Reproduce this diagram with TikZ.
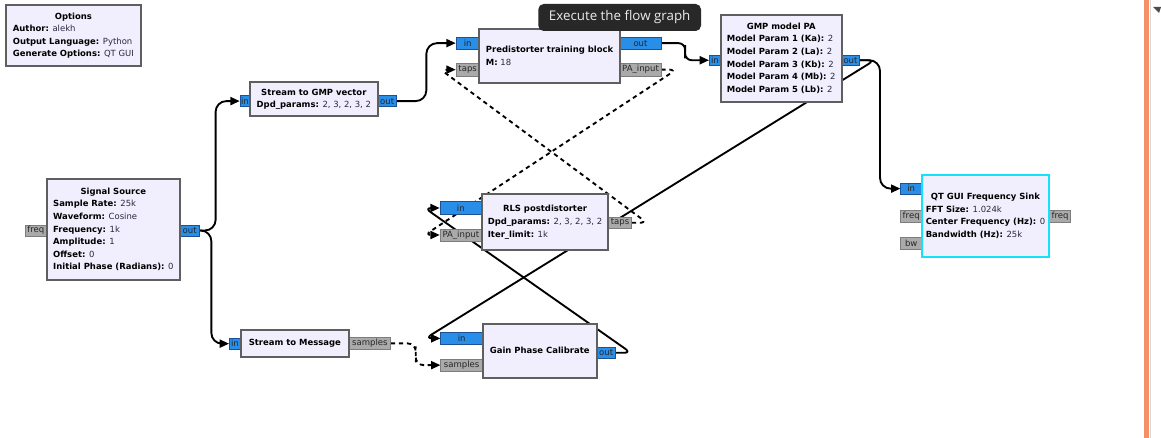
\documentclass[tikz,border=0pt]{standalone}
\usepackage{fontspec}
\setmainfont{DejaVu Sans}
\newfontfamily\tipfont{Open Sans}
\usetikzlibrary{arrows.meta,calc}
\pgfdeclarelayer{bg}
\pgfdeclarelayer{wires}
\pgfsetlayers{bg,wires,main}
\definecolor{blkfill}{RGB}{241,238,253}
\definecolor{blkdraw}{RGB}{95,95,95}
\definecolor{portblue}{RGB}{40,142,232}
\definecolor{portbluedraw}{RGB}{30,80,150}
\definecolor{portgray}{RGB}{170,170,170}
\definecolor{portgraydraw}{RGB}{125,125,125}
\definecolor{qtcyan}{RGB}{20,225,250}
\definecolor{tipbg}{RGB}{40,40,40}
\definecolor{tiptext}{RGB}{235,235,235}
\definecolor{barorange}{RGB}{244,143,104}
\definecolor{barline}{RGB}{215,215,215}
\definecolor{valtext}{RGB}{40,40,60}
\newcommand\kvp[2]{\textbf{#1:} {\color{valtext}#2}}
\newcommand\btitle[1]{\multicolumn{1}{@{}c@{}}{\textbf{#1}}}
% \boxat{style}{name}{x1}{y1}{x2}{y2}{text}
\newcommand\boxat[7]{\node[#1, minimum width={(#5-#3)*0.75pt}, minimum height={(#6-#4)*0.75pt}] (#2) at ({(#3+#5)/2},{(#4+#6)/2}) {#7};}
\begin{document}
\begin{tikzpicture}[x=0.75pt,y=-0.75pt,
  blk/.style={draw=blkdraw, fill=blkfill, line width=1.5pt, inner sep=0pt, rectangle},
  qtblk/.style={blk, draw=qtcyan},
  prt/.style={rectangle, inner sep=0pt, font=\fontsize{6.4}{7}\selectfont, text=black!85, line width=0.4pt},
  pb/.style={prt, fill=portblue, draw=portbluedraw},
  pg/.style={prt, fill=portgray, draw=portgraydraw},
  btxt/.style={inner sep=0pt, font=\fontsize{6.35}{9.45}\selectfont, text=black},
  conn/.style={line width=1.4pt, -{Triangle[length=7pt,width=6pt]}, rounded corners=8pt},
  mconn/.style={conn, dash pattern=on 3.2pt off 2.8pt},
  tip/.style={fill=tipbg, rounded corners=4pt, inner sep=0pt, text=tiptext, font=\tipfont\fontsize{10}{12}\selectfont},
]
\useasboundingbox (0,0) rectangle (1161,438);
\begin{pgfonlayer}{bg}
\fill[white] (0,0) rectangle (1161,438);
\end{pgfonlayer}

% ---- ports ----
\boxat{pg}{ss-freq}{25}{225}{46.7}{236}{freq}
\boxat{pb}{ss-out}{180}{225}{199.3}{236}{out}
\boxat{pb}{s2g-in}{240}{95.7}{250}{106.5}{in}
\boxat{pb}{s2g-out}{377.7}{95.7}{396.7}{106.5}{out}
\boxat{pb}{pt-in}{456}{37.3}{479.3}{49}{in}
\boxat{pg}{pt-taps}{456}{63.3}{479.3}{76}{taps}
\boxat{pb}{pt-out}{620}{37.3}{661}{49}{out}
\boxat{pg}{pt-pa}{620}{63.3}{661}{76}{PA\_input}
\boxat{pb}{gmp-in}{709.3}{55}{720.7}{65.5}{in}
\boxat{pb}{gmp-out}{841.7}{55}{859.3}{65.5}{out}
\boxat{pb}{rls-in}{440}{201.7}{481.7}{214.3}{in}
\boxat{pg}{rls-pa}{440}{229}{481.7}{241}{PA\_input}
\boxat{pg}{rls-taps}{608.3}{217.3}{631.7}{228.3}{taps}
\boxat{pb}{s2m-in}{229.3}{338}{240.7}{349.3}{in}
\boxat{pg}{s2m-samples}{349}{337.5}{390.7}{349.3}{samples}
\boxat{pb}{gpc-in}{440.7}{332.7}{482.7}{344}{in}
\boxat{pg}{gpc-samples}{440.7}{359.3}{482.7}{371}{samples}
\boxat{pb}{gpc-out}{596.7}{347.3}{615.7}{358.3}{out}
\boxat{pb}{qt-in}{900.7}{183.3}{921.7}{194}{in}
\boxat{pg}{qt-freq}{900.7}{210.7}{921.7}{222.3}{freq}
\boxat{pg}{qt-bw}{900.7}{237.7}{921.7}{249}{bw}
\boxat{pg}{qt-freqo}{1049.3}{210.7}{1070.7}{222.3}{freq}

% ---- blocks ----
\boxat{blk}{opt}{6}{5}{140.7}{66}{}
\boxat{blk}{s2g}{250}{82.3}{377.7}{116}{}
\boxat{blk}{ss}{46.7}{179.3}{180}{280}{}
\boxat{blk}{pt}{479.3}{29.3}{620}{83.3}{}
\boxat{blk}{gmp}{720.7}{15}{841.7}{101.7}{}
\boxat{blk}{rls}{481.7}{194}{608.3}{250}{}
\boxat{blk}{s2m}{240.7}{330}{349}{356.7}{}
\boxat{blk}{gpc}{482.7}{324}{596.7}{378.3}{}
\boxat{qtblk}{qt}{921.7}{175}{1049.3}{257.3}{}

% ---- block texts ----
\node[btxt] (opt-t) at (opt.center) {\begin{tabular}{@{}l@{}}\btitle{Options}\\ \kvp{Author}{alekh}\\ \kvp{Output Language}{Python}\\ \kvp{Generate Options}{QT GUI}\end{tabular}};
\node[btxt] (s2g-t) at (s2g.center) {\begin{tabular}{@{}l@{}}\btitle{Stream to GMP vector}\\ \kvp{Dpd\_params}{2, 3, 2, 3, 2}\end{tabular}};
\node[btxt] (ss-t) at (ss.center) {\begin{tabular}{@{}l@{}}\btitle{Signal Source}\\ \kvp{Sample Rate}{25k}\\ \kvp{Waveform}{Cosine}\\ \kvp{Frequency}{1k}\\ \kvp{Amplitude}{1}\\ \kvp{Offset}{0}\\ \kvp{Initial Phase (Radians)}{0}\end{tabular}};
\node[btxt] (pt-t) at (pt.center) {\begin{tabular}{@{}l@{}}\btitle{Predistorter training block}\\ \kvp{M}{18}\end{tabular}};
\node[btxt] (gmp-t) at (gmp.center) {\begin{tabular}{@{}l@{}}\btitle{GMP model PA}\\ \kvp{Model Param 1 (Ka)}{2}\\ \kvp{Model Param 2 (La)}{2}\\ \kvp{Model Param 3 (Kb)}{2}\\ \kvp{Model Param 4 (Mb)}{2}\\ \kvp{Model Param 5 (Lb)}{2}\end{tabular}};
\node[btxt] (rls-t) at (rls.center) {\begin{tabular}{@{}l@{}}\btitle{RLS postdistorter}\\ \kvp{Dpd\_params}{2, 3, 2, 3, 2}\\ \kvp{Iter\_limit}{1k}\end{tabular}};
\node[btxt] (s2m-t) at (s2m.center) {\begin{tabular}{@{}l@{}}\btitle{Stream to Message}\end{tabular}};
\node[btxt] (gpc-t) at (gpc.center) {\begin{tabular}{@{}l@{}}\btitle{Gain Phase Calibrate}\end{tabular}};
\node[btxt] (qt-t) at (qt.center) {\begin{tabular}{@{}l@{}}\btitle{QT GUI Frequency Sink}\\ \kvp{FFT Size}{1.024k}\\ \kvp{Center Frequency (Hz)}{0}\\ \kvp{Bandwidth (Hz)}{25k}\end{tabular}};

% ---- connections ----
\begin{pgfonlayer}{wires}
\draw[conn] (ss-out.east) -| ($(ss-out.east)!0.4!(s2g-in.west)$) |- (s2g-in.west);
\draw[conn] (ss-out.east) -| ($(ss-out.east)!0.4!(s2m-in.west)$) |- (s2m-in.west);
\draw[conn] (s2g-out.east) -| ($(s2g-out.east)!0.5!(pt-in.west)$) |- (pt-in.west);
\draw[conn, rounded corners=5pt] (pt-out.east) -| ($(pt-out.east)!0.5!(gmp-in.west)$) |- (gmp-in.west);
\draw[conn] (gmp-out.east) -| ($(gmp-out.east)!0.5!(qt-in.west)$) |- (qt-in.west);
\draw[conn, rounded corners=5pt] (gmp-out.east) -- ++(15,0) -- ($(gpc-in.west)+(-15,0)$) -- (gpc-in.west);
\draw[conn, rounded corners=5pt] (gpc-out.east) -- ++(15,0) -- ($(rls-in.west)+(-15,0)$) -- (rls-in.west);
\draw[mconn, rounded corners=5pt] (pt-pa.east) -- ++(15,0) -- ($(rls-pa.west)+(-15,0)$) -- (rls-pa.west);
\draw[mconn, rounded corners=5pt] (rls-taps.east) -- ++(15,0) -- ($(pt-taps.west)+(-15,0)$) -- (pt-taps.west);
\draw[mconn, rounded corners=6pt] (s2m-samples.east) -| ($(s2m-samples.east)!0.5!(gpc-samples.west)$) |- (gpc-samples.west);
\end{pgfonlayer}

% ---- window decorations ----
\fill[barorange] (1144,0) rectangle (1149.3,438);
\draw[barline, line width=0.6pt] (1150,0) -- (1150,438);
\fill[black!70] (1153,7) -- (1161,7) -- (1159,13) -- cycle;

% ---- tooltip ----
\boxat{tip}{tooltip}{538.3}{4}{701}{31}{Execute the flow graph}
\end{tikzpicture}
\end{document}
